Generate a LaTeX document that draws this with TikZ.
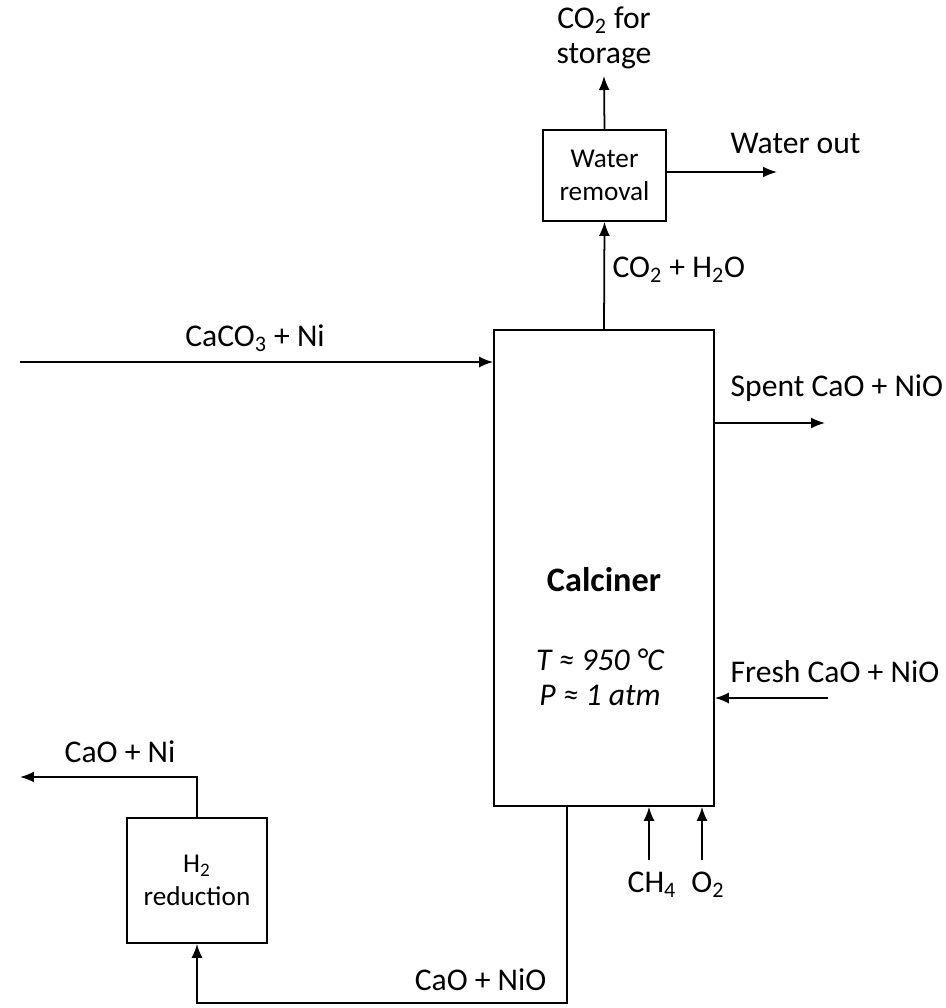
\documentclass[tikz,border=0pt]{standalone}
\usepackage{fontspec}
\setmainfont{Carlito}
\usetikzlibrary{arrows.meta}
\begin{document}
\begin{tikzpicture}[x=0.02cm, y=-0.02cm, line width=1pt, >={Latex[length=2.8mm,width=2.2mm]},
		unit/.style={draw, line width=1pt, align=center, inner sep=0pt, font=\fontsize{15.5}{19}\selectfont},
		stream/.style={align=center, inner sep=1pt, font=\fontsize{18}{20}\selectfont}]
		\useasboundingbox (0,0) rectangle (946,1008);
		% Define nodes
		\node[unit, minimum width=4.4cm, minimum height=9.52cm] (calciner) at (604,568) {};
		\node[font=\fontsize{19.5}{23}\selectfont\bfseries] (calcname) at (604,580) {Calciner};
		\node[font=\fontsize{18}{20}\selectfont\itshape, align=center] (conditions) at (600,677) {T ≈ 950 °C\\P ≈ 1 atm};
		\node[unit, minimum width=2.46cm, minimum height=1.82cm] (water) at (604.5,175.5) {Water\\removal};
		\node[unit, minimum width=2.8cm, minimum height=2.5cm] (hred) at (197,880.5) {H\textsubscript{2}\\reduction};
		
		% Stream end points
		\coordinate (storage) at (604,76); \coordinate (waterout) at (777,172);
		\coordinate (feed) at (20,362); \coordinate (spent) at (825,423);
		\coordinate (fresh) at (828,698); \coordinate (ch4) at (649,860);
		\coordinate (o2) at (702,860); \coordinate (loop) at (567,1003);
		\coordinate (product) at (20,777);
		
		% Draw edges
		\draw[->] (calciner.north) -- (water.south); \draw[->] (water.north) -- (storage);
		\draw[->] (waterout -| water.east) -- (waterout); \draw[->] (feed) -- (feed -| calciner.west);
		\draw[->] (spent -| calciner.east) -- (spent); \draw[->] (fresh) -- (fresh -| calciner.east);
		\draw[->] (ch4) -- (ch4 |- calciner.south); \draw[->] (o2) -- (o2 |- calciner.south);
		\draw[->] (loop |- calciner.south) -- (loop) -| (hred.south);
		\draw[->] (hred.north) |- (product);
		
		% Stream labels
		\node[stream] (storagelbl) at (604,38) {CO\textsubscript{2} for\\storage};
		\node[stream, anchor=west] (h2olbl) at (610,270) {CO\textsubscript{2} + H\textsubscript{2}O};
		\node[stream, anchor=west] (waterlbl) at (728,143) {Water out};
		\node[stream] (feedlbl) at (255,338) {CaCO\textsubscript{3} + Ni};
		\node[stream, anchor=west] (spentlbl) at (728,388) {Spent CaO + NiO};
		\node[stream, anchor=west] (freshlbl) at (728,672) {Fresh CaO + NiO};
		\node[stream] (ch4lbl) at (652,885) {CH\textsubscript{4}};
		\node[stream] (o2lbl) at (708,885) {O\textsubscript{2}};
		\node[stream, anchor=east] (looplbl) at (549,980) {CaO + NiO};
		\node[stream] (productlbl) at (120,752) {CaO + Ni};
	\end{tikzpicture}
\end{document}
